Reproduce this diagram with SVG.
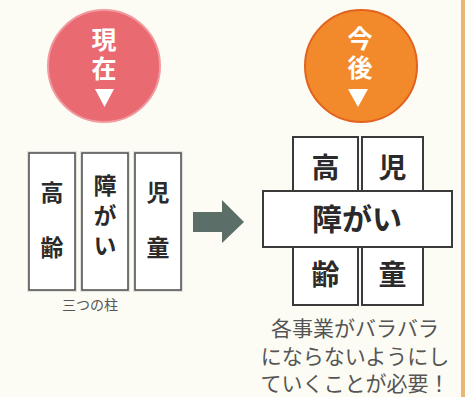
<svg xmlns="http://www.w3.org/2000/svg" width="465" height="397" viewBox="0 0 465 397">
<style>
.jp{font-family:"Noto Sans CJK JP","Noto Sans",sans-serif}
.wt{fill:#ffffff;font-size:25px;font-weight:bold;writing-mode:vertical-rl;letter-spacing:4px}
.bx{fill:#ffffff;stroke:#3a3a3a;stroke-width:2}
.bxl{fill:#ffffff;stroke:#555555;stroke-width:1.6}
.halo{fill:none;stroke:#e2e2dc;stroke-width:4}
.bt{fill:#2a2a2a;font-weight:bold;text-anchor:middle}
.cap{fill:#555555;text-anchor:middle}
</style>
<rect x="0" y="0" width="465" height="397" fill="#fcfbf4"/>
<rect x="461" y="0" width="4" height="397" fill="#eab676"/>
<g id="now">
<circle cx="104" cy="66" r="56" fill="#ea6a72" stroke="#f19aa0" stroke-width="2"/>
<text class="jp wt" x="104" y="27">現在</text>
<polygon points="95,89 114,89 104.5,107" fill="#ffffff"/>
</g>
<g id="future">
<circle cx="361" cy="66" r="56" fill="#f28a2c" stroke="#e2621e" stroke-width="2"/>
<text class="jp wt" x="360" y="26">今後</text>
<polygon points="348,89 368,89 358,107" fill="#ffffff"/>
</g>
<g id="pillar-elderly">
<rect class="halo" x="29" y="153" width="46" height="137"/>
<rect class="bxl" x="29" y="153" width="46" height="137"/>
<text class="jp bt" x="52" y="201" font-size="23">高</text>
<text class="jp bt" x="52" y="256" font-size="23">齢</text>
</g>
<g id="pillar-disability">
<rect class="halo" x="82" y="153" width="46" height="137"/>
<rect class="bxl" x="82" y="153" width="46" height="137"/>
<text class="jp" x="105" y="174" font-size="23" font-weight="bold" fill="#2a2a2a" style="writing-mode:vertical-rl;letter-spacing:7px">障がい</text>
</g>
<g id="pillar-child">
<rect class="halo" x="135" y="153" width="46" height="137"/>
<rect class="bxl" x="135" y="153" width="46" height="137"/>
<text class="jp bt" x="158" y="201" font-size="23">児</text>
<text class="jp bt" x="158" y="256" font-size="23">童</text>
</g>
<text class="jp cap" x="90" y="310" font-size="14">三つの柱</text>
<g id="connectors">
<polygon points="193,212 222,212 222,200 244,222 222,243 222,232 193,232" fill="#5b6f68"/>
</g>
<g id="future-elderly">
<rect class="bx" x="293" y="137" width="65" height="168"/>
<text class="jp bt" x="325.5" y="178" font-size="28">高</text>
<text class="jp bt" x="325.5" y="285" font-size="28">齢</text>
</g>
<g id="future-child">
<rect class="bx" x="362" y="137" width="61" height="168"/>
<text class="jp bt" x="392.5" y="178" font-size="28">児</text>
<text class="jp bt" x="392.5" y="285" font-size="28">童</text>
</g>
<g id="future-disability">
<rect class="bx" x="263" y="191" width="189" height="56"/>
<text class="jp bt" x="357" y="230" font-size="30">障がい</text>
</g>
<g id="caption">
<text class="jp cap" x="355" y="336" font-size="21">各事業がバラバラ</text>
<text class="jp cap" x="355" y="364" font-size="21">にならないようにし</text>
<text class="jp cap" x="355" y="391" font-size="21">ていくことが必要！</text>
</g>
</svg>
